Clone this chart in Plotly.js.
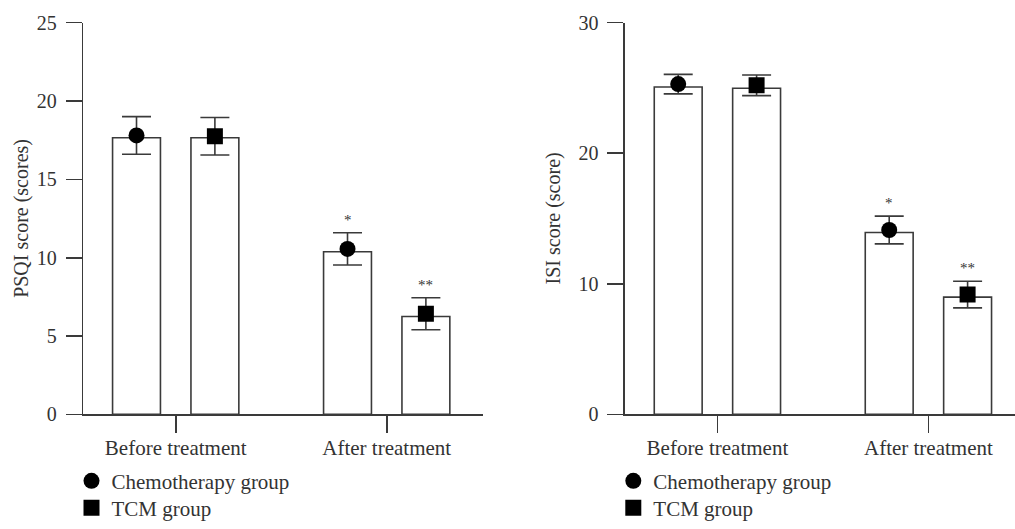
<!DOCTYPE html>
<html>
<head>
<meta charset="utf-8">
<script src="https://cdn.plot.ly/plotly-3.0.1.min.js"></script>
<style>html,body{margin:0;padding:0;background:#fff;}#chart{width:1015px;height:529px;}</style>
</head>
<body>
<div id="chart"></div>
<script>
// ---- data ----
const categories = ["Before treatment", "After treatment"];
const groups = ["Chemotherapy group", "TCM group"];

// PSQI (left panel)
const psqiBarChemo = [17.65, 10.38];
const psqiBarTcm   = [17.65, 6.25];
const psqiMeanChemo = [17.8, 10.56];
const psqiMeanTcm   = [17.75, 6.42];
const psqiErrChemo  = [1.2, 1.03];
const psqiErrTcm    = [1.2, 1.02];
const psqiSigChemo  = ["", "*"];
const psqiSigTcm    = ["", "**"];

// ISI (right panel)
const isiBarChemo = [25.07, 13.93];
const isiBarTcm   = [24.97, 8.98];
const isiMeanChemo = [25.29, 14.12];
const isiMeanTcm   = [25.2, 9.18];
const isiErrChemo  = [0.75, 1.06];
const isiErrTcm    = [0.79, 1.02];
const isiSigChemo  = ["", "*"];
const isiSigTcm    = ["", "**"];

const yTicksPsqi = [0, 5, 10, 15, 20, 25];
const yTicksIsi = [0, 10, 20, 30];

// ---- styling ----
const W = 1015, H = 529;
const FONT = "Liberation Serif, Times New Roman, serif";
const LINE = "#3a3a3a";
const TXT = "#333333";
const BARGAP = 0.257, GROUPGAP = 0.389;
const symbols = ["circle", "square"];

function barTrace(y, xa, ya) {
  return {type: "bar", x: categories, y: y, xaxis: xa, yaxis: ya,
    marker: {color: "#ffffff", line: {color: LINE, width: 1.6}},
    showlegend: false, hoverinfo: "skip"};
}
function pointTrace(y, err, idx, xa, ya, legend) {
  return {type: "scatter", mode: "markers", name: groups[idx], x: categories, y: y,
    xaxis: xa, yaxis: ya, legend: legend,
    marker: {symbol: symbols[idx], size: 16, color: "#000000"},
    error_y: {type: "data", array: err, visible: true, color: LINE, thickness: 1.6, width: 14.5}};
}

const data = [
  barTrace(psqiBarChemo, "x", "y"),
  barTrace(psqiBarTcm, "x", "y"),
  pointTrace(psqiMeanChemo, psqiErrChemo, 0, "x", "y", "legend"),
  pointTrace(psqiMeanTcm, psqiErrTcm, 1, "x", "y", "legend2"),
  barTrace(isiBarChemo, "x2", "y2"),
  barTrace(isiBarTcm, "x2", "y2"),
  pointTrace(isiMeanChemo, isiErrChemo, 0, "x2", "y2", "legend3"),
  pointTrace(isiMeanTcm, isiErrTcm, 1, "x2", "y2", "legend4")
];

const yDom = [(H - 416) / H, (H - 22.7) / H];
const xDom1 = [83.3 / W, 482.7 / W];
const xDom2 = [625 / W, 1];
const catPx = 211; // pixels per category
const off = (1 - BARGAP) / 4 * catPx;

function xAxis(dom) {
  const left = -92.4 / catPx;
  const right = left + (dom[1] - dom[0]) * W / catPx;
  return {domain: dom, type: "category", range: [left, right], showline: true, linecolor: LINE, linewidth: 1.6,
    ticks: "outside", ticklen: 17, tickwidth: 1.6, tickcolor: LINE, showgrid: false, zeroline: false,
    ticklabelstandoff: -3,
    tickfont: {family: FONT, size: 21, color: TXT}, fixedrange: true};
}
function yAxis(dom, range, ticks, anchor) {
  return {domain: dom, anchor: anchor, range: range, tickvals: ticks, showline: true, linecolor: LINE, linewidth: 1.6,
    ticks: "outside", ticklen: 16, tickwidth: 1.6, tickcolor: LINE, showgrid: false, zeroline: false,
    ticklabelstandoff: 5, tickfont: {family: FONT, size: 20, color: TXT}, fixedrange: true};
}

const annotations = [];
function sig(labels, means, errs, xref, yref, shift) {
  labels.forEach((t, i) => {
    if (!t) return;
    annotations.push({x: categories[i], y: means[i] + errs[i], xref: xref, yref: yref, text: t,
      showarrow: false, xshift: shift, yanchor: "bottom", yshift: 3,
      font: {family: FONT, size: 15, color: TXT}});
  });
}
sig(psqiSigChemo, psqiMeanChemo, psqiErrChemo, "x", "y", -off);
sig(psqiSigTcm, psqiMeanTcm, psqiErrTcm, "x", "y", off);
sig(isiSigChemo, isiMeanChemo, isiErrChemo, "x2", "y2", -off);
sig(isiSigTcm, isiMeanTcm, isiErrTcm, "x2", "y2", off);

annotations.push({xref: "paper", yref: "paper", x: 20.7 / W, y: (H - 219) / H, xanchor: "center", yanchor: "middle",
  text: "PSQI score (scores)", textangle: -90, showarrow: false, font: {family: FONT, size: 20, color: TXT}});
annotations.push({xref: "paper", yref: "paper", x: 553.3 / W, y: (H - 219) / H, xanchor: "center", yanchor: "middle",
  text: "ISI score (score)", textangle: -90, showarrow: false, font: {family: FONT, size: 20, color: TXT}});

function legendAt(xpx, ypx) {
  return {xanchor: "left", yanchor: "middle", x: xpx / W, y: (H - ypx) / H, bgcolor: "rgba(0,0,0,0)",
    font: {family: FONT, size: 21, color: TXT}, tracegroupgap: 0, itemclick: false, itemdoubleclick: false};
}

const layout = {
  width: W, height: H, margin: {l: 0, r: 0, t: 0, b: 0},
  paper_bgcolor: "#ffffff", plot_bgcolor: "#ffffff",
  barmode: "group", bargap: BARGAP, bargroupgap: GROUPGAP,
  scattermode: "group", scattergap: BARGAP,
  xaxis: xAxis(xDom1), yaxis: yAxis(yDom, [0, 25], yTicksPsqi, "x"),
  xaxis2: Object.assign(xAxis(xDom2), {anchor: "y2"}), yaxis2: yAxis(yDom, [0, 30], yTicksIsi, "x2"),
  legend: legendAt(71.5, 483),
  legend2: legendAt(71.5, 510),
  legend3: legendAt(613.3, 483),
  legend4: legendAt(613.3, 510),
  annotations: annotations,
  showlegend: true
};
layout.xaxis.anchor = "y";

Plotly.newPlot("chart", data, layout, {displayModeBar: false, staticPlot: true});
</script>
</body>
</html>
